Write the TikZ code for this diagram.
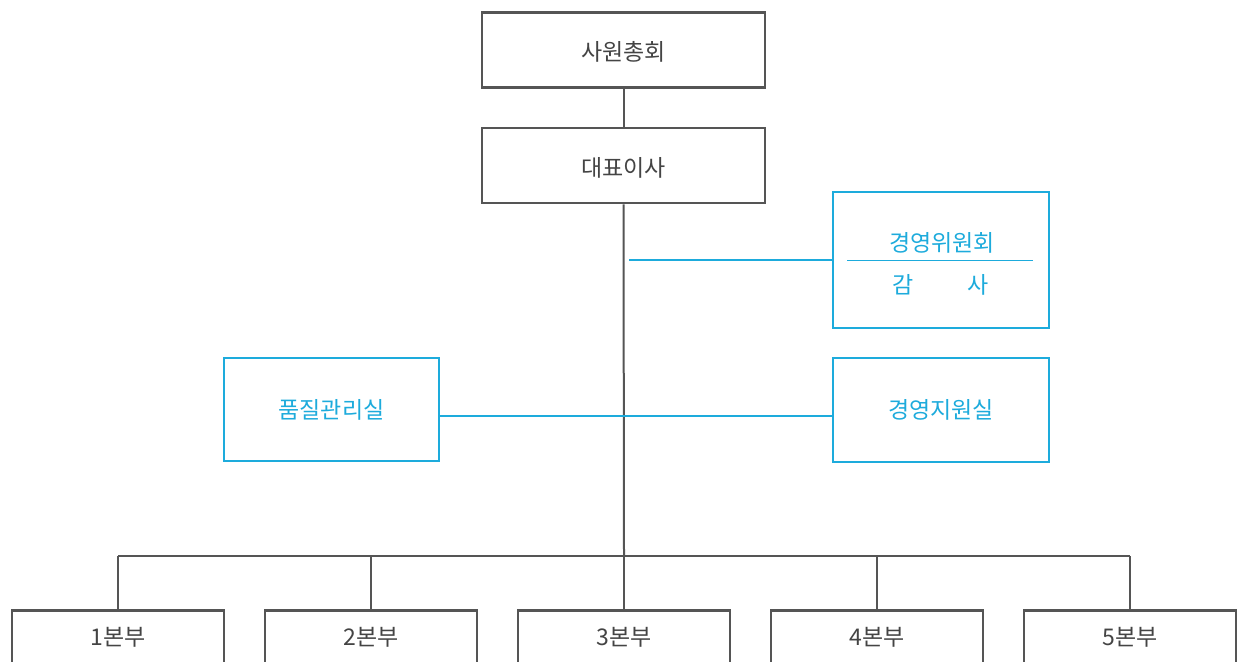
\documentclass[tikz,border=0pt]{standalone}
\usepackage{fontspec}
\setmainfont{Noto Sans CJK KR}
\definecolor{boxgray}{HTML}{555555}
\definecolor{txtgray}{HTML}{444444}
\definecolor{skyblue}{HTML}{1DABDC}
\tikzset{
  graybox/.style={draw=boxgray, line width=1.3pt, fill=white, inner sep=0pt, text=txtgray, font=\fontsize{11.5}{13}\selectfont},
  bluebox/.style={draw=skyblue, line width=1.3pt, fill=white, inner sep=0pt, text=skyblue, font=\fontsize{11.5}{13}\selectfont},
  graytxt/.style={inner sep=0pt, text=txtgray, font=\fontsize{11.5}{13}\selectfont},
  bluetxt/.style={inner sep=0pt, text=skyblue, font=\fontsize{11.5}{13}\selectfont},
  grayline/.style={draw=boxgray, line width=1pt},
  blueline/.style={draw=skyblue, line width=1pt},
}
\begin{document}
\begin{tikzpicture}[x=0.5pt,y=-0.5pt]
\useasboundingbox (0,0) rectangle (1241,661);
\clip (0,0) rectangle (1241,661);
% top
\node[graybox, minimum width=141.5pt, minimum height=37.5pt] (gm) at (623.5,50) {};
\node[graytxt] (gmt) at (623.5,52) {사원총회};
\node[graybox, minimum width=141.5pt, minimum height=37.5pt] (ceo) at (623.5,165.5) {};
\node[graytxt] (ceot) at (623.5,167.5) {대표이사};
% blue boxes
\node[bluebox, minimum width=108pt, minimum height=68pt] (com) at (941,260) {};
\node[bluetxt] (comt) at (942,243) {경영위원회};
\node[bluetxt] (gam) at (903,285) {감};
\node[bluetxt] (sa) at (978,285) {사};
\coordinate (dl) at (847,260);
\coordinate (dr) at (1033,260);
\node[bluebox, minimum width=108pt, minimum height=52pt] (sup) at (941,410) {경영지원실};
\node[bluebox, minimum width=107.5pt, minimum height=51.5pt] (qa) at (331.5,409.5) {품질관리실};
% bottom boxes
\foreach \k/\x in {1/118,2/371,3/624,4/877,5/1130}{
  \node[graybox, minimum width=106pt, minimum height=50pt, anchor=north] (b\k) at (\x,609) {};
  \node[graytxt] (t\k) at (\x,637) {\k{}본부};
}
% connectors
\coordinate (bar) at (624,556);
\coordinate (cj) at (629,260);
\coordinate (qy) at (0,416);
\draw[grayline] (gm.south) -- (ceo.north);
\draw[grayline] (ceo.south) -- (bar);
\draw[blueline] (cj) -- (com.west |- cj);
\draw[blueline, line width=0.5pt] (dl) -- (dr);
\draw[blueline] (qa.east |- qy) -- (sup.west |- qy);
\draw[grayline] (b1.north |- bar) -- (b5.north |- bar);
\foreach \k in {1,...,5}{
  \draw[grayline] (b\k.north |- bar) -- (b\k.north);
}
\end{tikzpicture}
\end{document}
